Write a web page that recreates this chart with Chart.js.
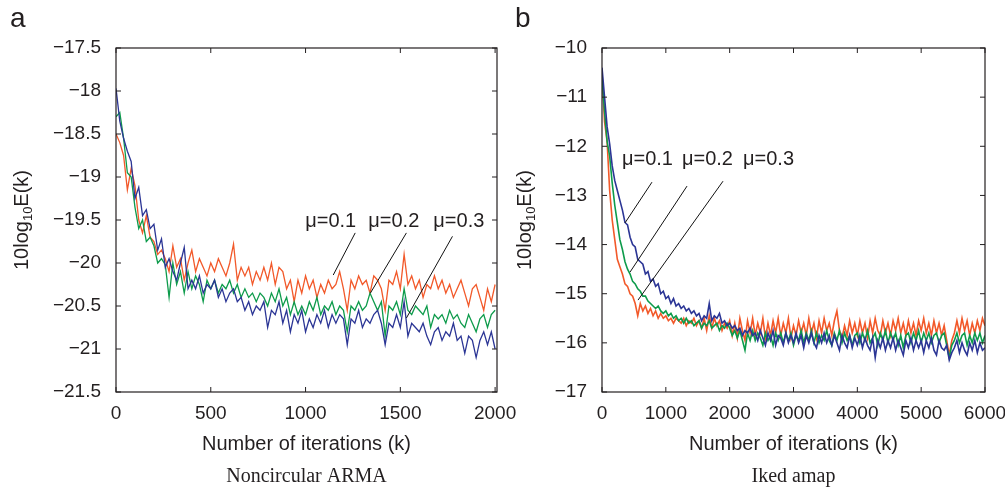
<!DOCTYPE html>
<html>
<head>
<meta charset="utf-8">
<script src="https://cdn.jsdelivr.net/npm/chart.js@4.4.0/dist/chart.umd.min.js"></script>
<style>
  body { margin: 0; background: #fff; width: 1005px; height: 488px; overflow: hidden; position: relative; }
  #ca { position: absolute; left: 0; top: 0; }
  #cb { position: absolute; left: 500px; top: 0; }
</style>
</head>
<body>
<canvas id="ca" width="530" height="488"></canvas>
<canvas id="cb" width="505" height="488"></canvas>
<script>
// ---- data: panel a (Noncircular ARMA), one sample every 20 iterations ----
const stepA = 20;
const xTicksA = [0, 500, 1000, 1500, 2000];
const blueA = [
  -17.97,-18.35,-18.55,-18.7,-18.82,-19.25,-19.12,-19.45,-19.38,-19.6,
  -19.55,-19.85,-19.72,-20.05,-19.95,-20.1,-20.2,-20.0,-19.82,-20.3,
  -20.2,-20.3,-20.15,-20.35,-20.25,-20.3,-20.2,-20.4,-20.3,-20.45,
  -20.35,-20.3,-20.45,-20.4,-20.55,-20.45,-20.6,-20.5,-20.55,-20.45,
  -20.75,-20.55,-20.6,-20.45,-20.7,-20.55,-20.8,-20.6,-20.7,-20.55,
  -20.8,-20.65,-20.75,-20.6,-20.7,-20.55,-20.75,-20.6,-20.7,-20.6,
  -20.65,-20.95,-20.65,-20.7,-20.55,-20.75,-20.65,-20.7,-20.6,-20.55,
  -20.7,-20.95,-20.7,-20.75,-20.6,-20.75,-20.45,-20.85,-20.7,-20.75,
  -20.8,-20.7,-20.85,-20.95,-20.8,-20.75,-20.9,-20.8,-20.85,-20.7,
  -20.9,-20.85,-21.05,-20.85,-20.9,-21.1,-20.9,-20.8,-20.95,-20.8,
  -21.0
];
const greenA = [
  -18.3,-18.25,-18.55,-18.95,-19.0,-19.35,-19.6,-19.5,-19.75,-19.7,
  -19.8,-20.0,-19.95,-20.02,-20.4,-20.0,-20.25,-20.1,-20.35,-20.1,
  -20.3,-20.15,-20.25,-20.45,-20.2,-20.3,-20.2,-20.35,-20.25,-20.3,
  -20.2,-20.35,-20.25,-20.4,-20.3,-20.4,-20.35,-20.45,-20.35,-20.4,
  -20.5,-20.35,-20.45,-20.3,-20.5,-20.4,-20.6,-20.45,-20.6,-20.5,
  -20.6,-20.45,-20.55,-20.4,-20.6,-20.5,-20.55,-20.45,-20.6,-20.5,
  -20.55,-20.8,-20.5,-20.55,-20.45,-20.55,-20.5,-20.35,-20.45,-20.55,
  -20.45,-20.85,-20.5,-20.55,-20.45,-20.6,-20.3,-20.55,-20.6,-20.5,
  -20.55,-20.6,-20.5,-20.75,-20.6,-20.65,-20.6,-20.7,-20.55,-20.65,
  -20.6,-20.7,-20.75,-20.6,-20.7,-20.8,-20.65,-20.6,-20.75,-20.6,
  -20.55
];
const orangeA = [
  -18.5,-18.6,-18.75,-19.15,-18.9,-19.1,-19.5,-19.65,-19.45,-19.7,
  -19.75,-19.9,-19.85,-19.95,-20.1,-19.8,-20.05,-19.95,-20.2,-20.0,
  -19.85,-20.1,-19.95,-20.05,-20.15,-20.0,-20.1,-19.95,-20.05,-20.15,
  -20.0,-19.78,-20.2,-20.05,-20.15,-20.05,-20.25,-20.1,-20.2,-20.05,
  -20.2,-20.0,-20.25,-20.05,-20.1,-20.3,-20.2,-20.45,-20.2,-20.35,
  -20.15,-20.3,-20.2,-20.4,-20.25,-20.35,-20.2,-20.3,-20.25,-20.1,
  -20.3,-20.55,-20.2,-20.3,-20.15,-20.25,-20.2,-20.35,-20.15,-20.2,
  -20.3,-20.55,-20.2,-20.25,-20.1,-20.3,-19.9,-20.25,-20.15,-20.3,
  -20.2,-20.4,-20.25,-20.3,-20.15,-20.3,-20.2,-20.35,-20.25,-20.4,
  -20.3,-20.2,-20.35,-20.5,-20.3,-20.25,-20.4,-20.55,-20.3,-20.45,
  -20.25
];

// ---- data: panel b (Iked amap), one sample every 40 iterations ----
const stepB = 40;
const xTicksB = [0, 1000, 2000, 3000, 4000, 5000, 6000];
const blueB = [
  -10.4,-11.0,-11.6,-11.95,-12.4,-12.7,-12.9,-13.1,-13.3,-13.55,
  -13.6,-13.85,-14.0,-14.05,-14.3,-14.35,-14.4,-14.6,-14.55,-14.75,
  -14.7,-14.85,-14.8,-15.0,-14.95,-15.1,-15.05,-15.2,-15.1,-15.25,
  -15.2,-15.3,-15.25,-15.35,-15.3,-15.4,-15.35,-15.45,-15.4,-15.55,
  -15.45,-15.5,-15.2,-15.55,-15.45,-15.5,-15.4,-15.6,-15.55,-15.65,
  -15.6,-15.7,-15.65,-15.75,-15.7,-15.85,-15.75,-15.8,-15.7,-15.85,
  -15.8,-15.95,-15.75,-15.9,-16.05,-15.8,-15.95,-15.75,-16.05,-15.85,
  -15.9,-16.05,-15.8,-16.0,-15.85,-16.0,-15.8,-16.0,-15.85,-16.1,
  -15.85,-16.0,-15.8,-16.0,-16.1,-15.85,-16.0,-15.8,-16.0,-15.85,
  -16.05,-15.85,-16.0,-16.15,-15.85,-16.0,-16.1,-15.85,-16.1,-15.9,
  -16.05,-15.85,-16.1,-15.9,-16.05,-16.15,-15.9,-16.3,-15.95,-16.1,
  -15.9,-16.15,-15.95,-16.1,-15.9,-16.15,-15.95,-16.1,-16.25,-15.95,
  -16.1,-15.9,-16.15,-15.95,-16.1,-15.95,-16.2,-15.95,-16.1,-15.9,
  -16.15,-16.25,-15.95,-16.1,-16.15,-16.05,-16.35,-16.2,-16.1,-15.95,
  -16.2,-16.0,-16.15,-16.25,-16.0,-16.15,-15.95,-16.2,-16.0,-16.15,
  -16.1
];
const greenB = [
  -10.6,-11.3,-11.9,-12.2,-12.75,-13.2,-13.55,-13.9,-14.1,-14.35,
  -14.5,-14.6,-14.75,-14.8,-14.9,-14.95,-15.05,-15.05,-15.15,-15.2,
  -15.25,-15.3,-15.25,-15.35,-15.4,-15.35,-15.45,-15.4,-15.5,-15.45,
  -15.55,-15.5,-15.6,-15.5,-15.6,-15.55,-15.65,-15.6,-15.55,-15.7,
  -15.6,-15.65,-15.55,-15.7,-15.65,-15.6,-15.75,-15.65,-15.7,-15.6,
  -15.7,-15.85,-15.75,-15.9,-15.75,-15.95,-16.15,-15.8,-15.95,-15.75,
  -15.95,-15.8,-15.9,-16.05,-15.8,-15.95,-15.85,-16.05,-15.8,-15.95,
  -15.8,-16.0,-15.8,-15.95,-15.8,-16.05,-15.85,-15.95,-15.75,-16.0,
  -15.8,-15.95,-15.75,-16.0,-15.8,-16.0,-15.85,-15.95,-15.75,-15.95,
  -16.05,-15.8,-15.95,-15.75,-16.0,-15.8,-15.95,-15.85,-16.05,-15.85,
  -15.8,-16.0,-15.8,-15.95,-15.75,-16.0,-15.9,-15.8,-16.05,-15.8,
  -15.95,-15.75,-16.0,-15.8,-15.95,-15.8,-16.05,-15.85,-16.1,-15.85,
  -15.8,-16.0,-15.8,-15.95,-15.75,-16.0,-15.8,-15.95,-15.8,-16.0,
  -15.85,-15.8,-16.0,-15.85,-15.8,-16.05,-16.3,-16.05,-15.95,-15.8,
  -16.0,-15.85,-15.8,-16.05,-15.85,-16.0,-15.8,-15.95,-15.8,-16.0,
  -15.85
];
const orangeB = [
  -10.5,-11.5,-11.9,-12.9,-13.5,-13.9,-14.3,-14.45,-14.6,-14.8,
  -14.85,-15.0,-15.05,-15.2,-15.45,-15.2,-15.35,-15.25,-15.4,-15.3,
  -15.45,-15.35,-15.5,-15.4,-15.5,-15.45,-15.55,-15.5,-15.6,-15.5,
  -15.55,-15.6,-15.5,-15.65,-15.55,-15.6,-15.5,-15.65,-15.55,-15.7,
  -15.5,-15.75,-15.45,-15.7,-15.5,-15.65,-15.55,-15.75,-15.6,-15.7,
  -15.55,-15.85,-15.6,-15.9,-15.5,-15.75,-15.95,-15.55,-15.8,-15.5,
  -15.85,-15.6,-15.8,-15.5,-15.9,-15.6,-15.85,-15.55,-15.8,-15.5,
  -15.85,-15.6,-15.8,-15.5,-15.9,-15.65,-15.85,-15.55,-15.8,-15.6,
  -15.85,-15.5,-15.8,-15.6,-15.9,-15.55,-15.8,-15.5,-15.75,-15.6,
  -15.85,-15.55,-15.35,-15.75,-15.9,-15.65,-15.85,-15.55,-15.8,-15.6,
  -15.85,-15.55,-15.8,-15.6,-15.9,-15.55,-15.8,-15.5,-15.75,-15.85,
  -15.55,-15.8,-15.6,-15.85,-15.55,-15.75,-15.5,-15.8,-15.6,-15.85,
  -15.55,-15.8,-15.6,-15.85,-15.55,-15.75,-15.5,-15.8,-15.6,-15.85,
  -15.55,-15.8,-15.6,-15.85,-15.65,-15.95,-16.25,-15.95,-15.8,-15.55,
  -15.8,-15.5,-15.75,-15.55,-15.85,-15.6,-15.8,-15.55,-15.75,-15.5,
  -15.65
];

// ---- annotation labels, in data units ----
const muLabels = ['μ=0.1', 'μ=0.2', 'μ=0.3'];
const muPosA = [[998, -19.58], [1331, -19.58], [1674, -19.58]];
const pointersA = [[1262, -19.65, 1146, -20.14], [1532, -19.65, 1342, -20.35], [1775, -19.69, 1532, -20.64]];
const muPosB = [[313, -12.38], [1253, -12.38], [2209, -12.38]];
const pointersB = [[783, -12.73, 360, -13.56], [1332, -12.81, 439, -14.56], [1896, -12.71, 564, -15.13]];

const COLORS = { blue: '#2b3595', green: '#0d9b4b', orange: '#f2592a' };
const SANS = '"Liberation Sans", Arial, sans-serif';
const INK = '#231f20';

Chart.defaults.color = INK;

const fmtMinus = v => String(Number(v.toFixed(1))).replace('-', '\u2212');

// frame, inward ticks, titles and the mu pointers
function framePlugin(cfg) {
  return {
    id: 'frame',
    afterDatasetsDraw(chart) {
      const { ctx, chartArea: a, scales: { x, y } } = chart;
      ctx.save();
      ctx.strokeStyle = INK;
      ctx.lineWidth = 1.2;
      ctx.strokeRect(a.left, a.top, a.right - a.left, a.bottom - a.top);

      ctx.lineWidth = 1;
      ctx.beginPath();
      x.ticks.forEach(t => {
        const px = x.getPixelForValue(t.value);
        ctx.moveTo(px, a.bottom); ctx.lineTo(px, a.bottom - 5);
        ctx.moveTo(px, a.top); ctx.lineTo(px, a.top + 5);
      });
      y.ticks.forEach(t => {
        const py = y.getPixelForValue(t.value);
        ctx.moveTo(a.left, py); ctx.lineTo(a.left + 5, py);
        ctx.moveTo(a.right, py); ctx.lineTo(a.right - 5, py);
      });
      ctx.stroke();

      // pointer lines
      ctx.strokeStyle = '#111';
      ctx.beginPath();
      cfg.pointers.forEach(([x1, y1, x2, y2]) => {
        ctx.moveTo(x.getPixelForValue(x1), y.getPixelForValue(y1));
        ctx.lineTo(x.getPixelForValue(x2), y.getPixelForValue(y2));
      });
      ctx.stroke();

      ctx.fillStyle = INK;
      ctx.font = '20px ' + SANS;
      ctx.textAlign = 'left';
      ctx.textBaseline = 'alphabetic';
      cfg.muPos.forEach(([vx, vy], i) => {
        ctx.fillText(muLabels[i], x.getPixelForValue(vx), y.getPixelForValue(vy));
      });

      // x title + caption
      const cx = (a.left + a.right) / 2;
      ctx.textAlign = 'center';
      ctx.textBaseline = 'middle';
      ctx.font = '20px ' + SANS;
      ctx.fillText('Number of iterations (k)', cx, 444);
      ctx.font = '20px "Liberation Serif", "Times New Roman", serif';
      ctx.fillText(cfg.caption, cx, 477);

      // panel letter
      ctx.textAlign = 'left';
      ctx.textBaseline = 'alphabetic';
      ctx.font = '28px ' + SANS;
      ctx.fillText(cfg.letter, cfg.letterX, 27);

      // y title with subscript, rotated
      ctx.translate(cfg.yTitleX, (a.top + a.bottom) / 2);
      ctx.rotate(-Math.PI / 2);
      const big = '20px ' + SANS, small = '13px ' + SANS;
      ctx.font = big; const w1 = ctx.measureText('10log').width;
      const w3 = ctx.measureText('E(k)').width;
      ctx.font = small; const w2 = ctx.measureText('10').width;
      let sx = -(w1 + w2 + w3) / 2;
      ctx.textBaseline = 'middle';
      ctx.font = big; ctx.fillText('10log', sx, 0); sx += w1;
      ctx.font = small; ctx.fillText('10', sx, 6); sx += w2;
      ctx.font = big; ctx.fillText('E(k)', sx, 0);
      ctx.restore();
    }
  };
}

function makeChart(id, cfg) {
  const series = [
    { values: cfg.blue, color: COLORS.blue },
    { values: cfg.green, color: COLORS.green },
    { values: cfg.orange, color: COLORS.orange }
  ];
  return new Chart(document.getElementById(id), {
    type: 'line',
    data: {
      datasets: series.map(s => ({
        data: s.values.map((v, i) => ({ x: i * cfg.step, y: v })),
        borderColor: s.color,
        borderWidth: cfg.lineWidth,
        pointRadius: 0,
        tension: 0,
        fill: false
      }))
    },
    options: {
      responsive: false,
      animation: false,
      layout: { padding: { top: 48, right: cfg.padRight, left: 0, bottom: 0 } },
      plugins: { legend: { display: false }, tooltip: { enabled: false } },
      scales: {
        x: {
          type: 'linear',
          min: 0,
          max: cfg.xMax,
          afterBuildTicks: s => { s.ticks = cfg.xTicks.map(v => ({ value: v })); },
          afterFit: s => { s.height = 96; s.paddingLeft = 0; s.paddingRight = 0; },
          grid: { display: false, drawTicks: false },
          border: { display: false },
          ticks: {
            autoSkip: false,
            maxRotation: 0,
            padding: 10,
            color: INK,
            font: { family: SANS, size: 19 },
            callback: v => String(v)
          }
        },
        y: {
          min: cfg.yMin,
          max: cfg.yMax,
          afterFit: s => { s.width = cfg.yWidth; s.paddingTop = 0; s.paddingBottom = 0; },
          grid: { display: false, drawTicks: false },
          border: { display: false },
          ticks: {
            stepSize: cfg.yStep,
            padding: 15,
            color: INK,
            font: { family: SANS, size: 19 },
            callback: v => fmtMinus(v)
          }
        }
      }
    },
    plugins: [framePlugin(cfg)]
  });
}

makeChart('ca', {
  blue: blueA, green: greenA, orange: orangeA, step: stepA, lineWidth: 1.3,
  xMax: 2010, xTicks: xTicksA, yMin: -21.5, yMax: -17.5, yStep: 0.5,
  padRight: 33, yWidth: 116,
  muPos: muPosA, pointers: pointersA,
  caption: 'Noncircular ARMA', letter: 'a', letterX: 10, yTitleX: 22
});

makeChart('cb', {
  blue: blueB, green: greenB, orange: orangeB, step: stepB, lineWidth: 1.6,
  xMax: 6000, xTicks: xTicksB, yMin: -17, yMax: -10, yStep: 1,
  padRight: 20, yWidth: 102,
  muPos: muPosB, pointers: pointersB,
  caption: 'Iked amap', letter: 'b', letterX: 15, yTitleX: 25
});
</script>
</body>
</html>
